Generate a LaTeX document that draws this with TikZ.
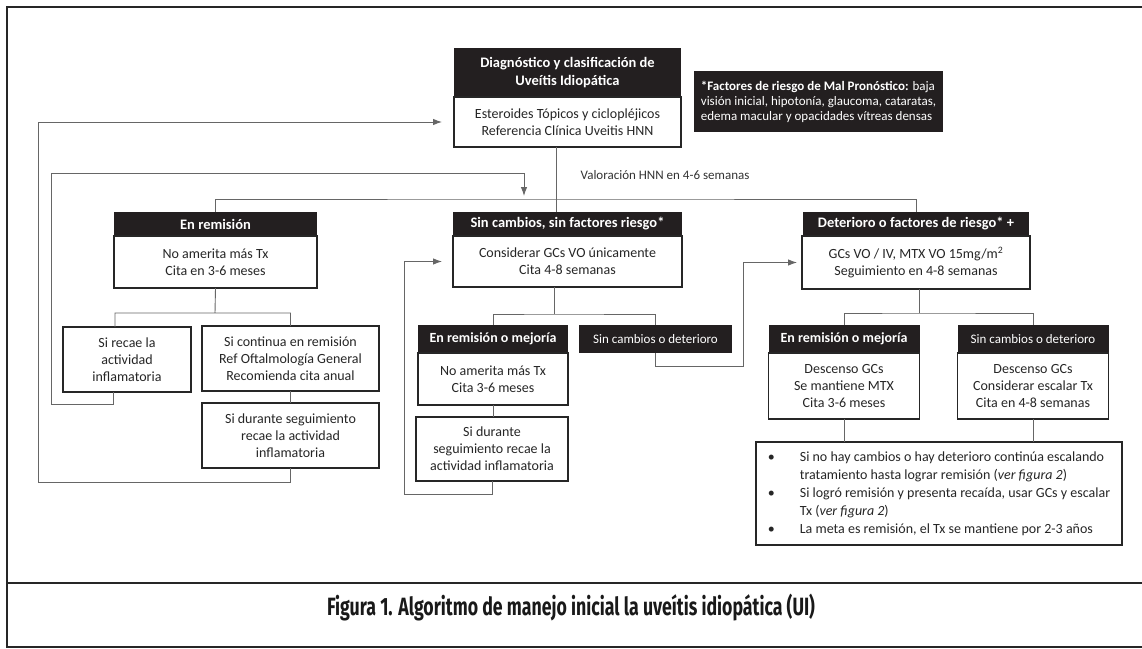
\documentclass[tikz,border=0pt]{standalone}
\usepackage{fontspec}
\setmainfont{Carlito}
\newfontfamily\capfont{Fira Sans}
\usepackage{graphicx}
\usetikzlibrary{positioning,arrows.meta}
\definecolor{hdrcol}{HTML}{231F20}

\begin{document}
\begin{tikzpicture}[x=1pt,y=-1pt,>={Latex[length=9pt,width=6.5pt]},
  head node/.style={rectangle,fill=hdrcol,text=white,align=center,inner sep=2pt,outer sep=0pt,minimum height=24pt,font=\fontsize{14.5}{18}\selectfont\bfseries},
  sub head/.style={head node,minimum height=28pt,minimum width=151pt,font=\fontsize{14}{17}\selectfont\bfseries},
  box node/.style={rectangle,draw=black!85,line width=1.3pt,fill=white,text=black!85,align=center,inner sep=2pt,outer sep=0pt,font=\fontsize{14}{17}\selectfont},
  link line/.style={draw=black!60,line width=0.9pt},
  frame line/.style={draw=black!85,line width=2.4pt}]
            \fill[white] (0,0) rectangle (1142,648);
            \useasboundingbox (0,0) rectangle (1142,648);
            \draw[frame line] (1142,7) -- (7,7) -- (7,647) -- (1142,647);
            \draw[frame line] (7,583) -- (1142,583);

            % top of the chart
            \node[head node,minimum width=227pt,minimum height=49pt] (1) at (567.5,72.5) {Diagnóstico y clasificación de\\Uveítis Idiopática};
            \node[box node,minimum width=227pt,minimum height=50pt] (2) [below=0pt of 1] {Esteroides Tópicos y ciclopléjicos\\Referencia Clínica Uveitis HNN};
            \node[head node,align=left,minimum width=249pt,minimum height=61pt,font=\fontsize{13}{15}\selectfont] (3) at (818.5,101.5) {{\bfseries *Factores de riesgo de Mal Pronóstico:} baja\\visión inicial, hipotonía, glaucoma, cataratas,\\edema macular y opacidades vítreas densas};
            \node[text=black!80,font=\fontsize{13}{16}\selectfont] (4) at (665,175) {Valoración HNN en 4-6 semanas};

            % three branches
            \node[head node,minimum width=203pt] (5) at (215.5,224) {En remisión};
            \node[box node,minimum width=203pt,minimum height=52pt] (6) [below=0pt of 5] {No amerita más Tx\\Cita en 3-6 meses};
            \node[head node,minimum width=229pt] (7) at (567.5,224) {Sin cambios, sin factores riesgo*};
            \node[box node,minimum width=229pt,minimum height=51pt] (8) [below=0pt of 7] {Considerar GCs VO únicamente\\Cita 4-8 semanas};
            \node[head node,minimum width=226pt] (9) at (916,224) {Deterioro o factores de riesgo* +};
            \node[box node,minimum width=228pt,minimum height=53pt] (10) [below=0pt of 9] {GCs VO / IV, MTX VO 15mg/m\textsuperscript{2}\\Seguimiento en 4-8 semanas};

            % left branch
            \node[box node,minimum width=128pt,minimum height=65pt] (11) at (127,359.5) {Si recae la\\actividad\\inflamatoria};
            \node[box node,minimum width=177pt,minimum height=65pt] (12) at (290.5,358.5) {Si continua en remisión\\Ref Oftalmología General\\Recomienda cita anual};
            \node[box node,minimum width=177pt,minimum height=65pt] (13) at (290.5,435.5) {Si durante seguimiento\\recae la actividad\\inflamatoria};

            % middle branch
            \node[sub head,minimum width=150pt] (14) at (493,339) {En remisión o mejoría};
            \node[box node,minimum width=150pt,minimum height=52pt] (15) [below=0pt of 14] {No amerita más Tx\\Cita 3-6 meses};
            \node[box node,minimum width=152pt,minimum height=64pt] (16) at (492,449) {Si durante\\seguimiento recae la\\actividad inflamatoria};
            \node[sub head,minimum width=153pt,font=\fontsize{13}{16}\selectfont] (17) at (655.5,339) {Sin cambios o deterioro};

            % right branch
            \node[sub head] (18) at (844,339) {En remisión o mejoría};
            \node[box node,minimum width=151pt,minimum height=66pt] (19) [below=0pt of 18] {Descenso GCs\\Se mantiene MTX\\Cita 3-6 meses};
            \node[sub head,font=\fontsize{13}{16}\selectfont] (20) at (1033,339) {Sin cambios o deterioro};
            \node[box node,minimum width=151pt,minimum height=66pt] (21) [below=0pt of 20] {Descenso GCs\\Considerar escalar Tx\\Cita en 4-8 semanas};
            \node[box node,minimum width=366pt,minimum height=103pt,align=left,font=\fontsize{14}{18}\selectfont] (22) at (939,493.5) {\begin{tabular}{@{}p{32pt}@{}l@{}}
              \textbullet & Si no hay cambios o hay deterioro continúa escalando\\
              & tratamiento hasta lograr remisión (\textit{ver figura 2})\\
              \textbullet & Si logró remisión y presenta recaída, usar GCs y escalar\\
              & Tx (\textit{ver figura 2})\\
              \textbullet & La meta es remisión, el Tx se mantiene por 2-3 años
            \end{tabular}};

            \node[anchor=base,text=black!90,font=\capfont\fontsize{25}{28}\selectfont\bfseries] (23) at (571,615) {\resizebox{488pt}{\height}{Figura 1. Algoritmo de manejo inicial la uveítis idiopática (UI)}};

            % connectors
            \coordinate (v) at (556,199);
            \coordinate (s1) at (215,313);
            \coordinate (s2) at (554,314);
            \coordinate (s3) at (919,313);
            \coordinate (la) at (38,482);
            \coordinate (lb) at (51,404);
            \coordinate (lbc) at (51,173);
            \coordinate (lbt) at (524,196);
            \coordinate (lc) at (404,494);
            \coordinate (ld) at (743,366);

            \draw[link line] (2.south -| v) -- (7.north -| v);
            \draw[link line] (5.north) |- (v) -| (9.north);
            \draw[link line] (6.south) -- (s1) ([xshift=-12pt]11.north) |- (s1) -| (12.north);
            \draw[link line] (12.south) -- (13.north);
            \draw[link line] (8.south -| s2) -- (s2) (14.north) |- (s2) -| (17.north);
            \draw[link line] (15.south) -- (15.south |- 16.north);
            \draw[link line] (10.south -| s3) -- (s3) (18.north) |- (s3) -| (20.north);
            \draw[link line] (19.south) -- (19.south |- 22.north);
            \draw[link line] (21.south) -- (21.south |- 22.north);

            \draw[link line,->,shorten >=12pt] (13.south) |- (la) |- (2.west);
            \draw[link line,->] ([xshift=-14pt]11.south) |- (lb) -- (lbc) -| (lbt);
            \draw[link line,->,shorten >=11pt] (16.south) |- (lc) |- (8.west);
            \draw[link line,->,shorten >=5pt] (17.south) |- (ld) |- (10.west);
        \end{tikzpicture}
\end{document}
